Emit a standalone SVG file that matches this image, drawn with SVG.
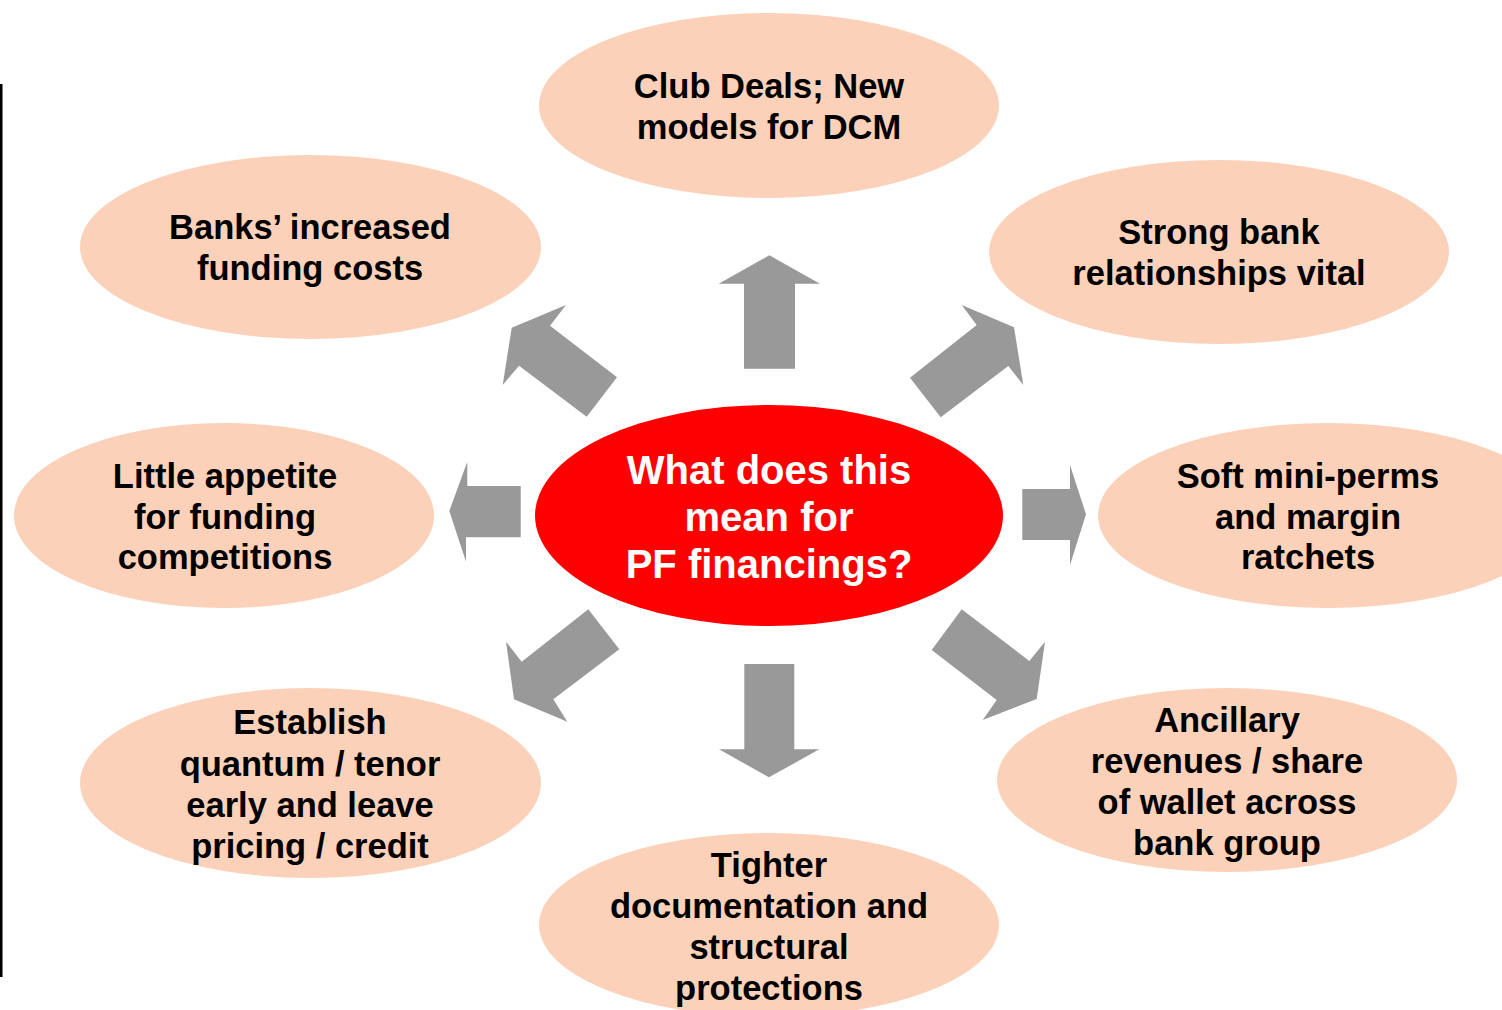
<svg xmlns="http://www.w3.org/2000/svg" width="1502" height="1010" viewBox="0 0 1502 1010">
<style>
.n{fill:#FBD1B9}
.t{font-family:"Liberation Sans",Arial,sans-serif;font-weight:bold;font-size:34.5px;fill:#000;text-anchor:middle}
.c{font-family:"Liberation Sans",Arial,sans-serif;font-weight:bold;font-size:40px;fill:#fff;text-anchor:middle}
.a{fill:#999999}
</style>
<rect x="0" y="84" width="2.5" height="893" fill="#000"/>
<g id="connectors">
<polygon class="a" points="769.3,255.3 820,283.7 795,283.7 795,368.7 744,368.7 744,283.7 718.7,283.7"/>
<polygon class="a" points="566,305 550,325.7 617,377.3 586.7,416.7 519,365.7 502.7,385 511.7,327.7"/>
<polygon class="a" points="961.7,305 1014,327.3 1023.3,385 1008.3,366 940.7,417.3 910,377.7 976.7,325"/>
<polygon class="a" points="449.3,511 467.3,461.7 467.3,486 520.7,486 520.7,537.3 466,537.3 466,561.7"/>
<polygon class="a" points="1086,514.3 1070,465 1070,489 1022.3,489 1022.3,540 1070,540 1070,565"/>
<polygon class="a" points="588.3,609.3 619.3,649.3 553.3,699.3 567.3,721.7 514,699.3 506,641.7 521.7,661.7"/>
<polygon class="a" points="769,777.3 819.3,749.3 794.3,749.3 794.3,664 744.3,664 744.3,749.3 719,749.3"/>
<polygon class="a" points="961.7,609.3 1029.3,661 1045,641.7 1036.7,699 982.7,720 996.7,700 931.7,650"/>
</g>
<g id="club">
<ellipse class="n" cx="769" cy="105.5" rx="230" ry="92.5"/>
<text class="t" x="769" y="98">Club Deals; New</text>
<text class="t" x="769" y="139">models for DCM</text>
</g>
<g id="banks">
<ellipse class="n" cx="310.5" cy="247" rx="230.5" ry="92"/>
<text class="t" x="310" y="239">Banks’ increased</text>
<text class="t" x="310" y="280">funding costs</text>
</g>
<g id="strong">
<ellipse class="n" cx="1219" cy="252" rx="230" ry="92"/>
<text class="t" x="1219" y="244">Strong bank</text>
<text class="t" x="1219" y="285">relationships vital</text>
</g>
<g id="little">
<ellipse class="n" cx="224" cy="515.5" rx="210" ry="92.5"/>
<text class="t" x="225" y="488">Little appetite</text>
<text class="t" x="225" y="529">for funding</text>
<text class="t" x="225" y="569">competitions</text>
</g>
<g id="center">
<ellipse cx="769" cy="515.5" rx="234" ry="110.5" fill="#FF0000"/>
<text class="c" x="769" y="484">What does this</text>
<text class="c" x="769" y="531">mean for</text>
<text class="c" x="769" y="578">PF financings?</text>
</g>
<g id="soft">
<ellipse class="n" cx="1328" cy="515.5" rx="230" ry="92.5"/>
<text class="t" x="1308" y="488">Soft mini-perms</text>
<text class="t" x="1308" y="529">and margin</text>
<text class="t" x="1308" y="569">ratchets</text>
</g>
<g id="establish">
<ellipse class="n" cx="310.5" cy="783" rx="230.5" ry="95"/>
<text class="t" x="310" y="734">Establish</text>
<text class="t" x="310" y="776">quantum / tenor</text>
<text class="t" x="310" y="817">early and leave</text>
<text class="t" x="310" y="858">pricing / credit</text>
</g>
<g id="ancillary">
<ellipse class="n" cx="1227" cy="780" rx="230" ry="92"/>
<text class="t" x="1227" y="732">Ancillary</text>
<text class="t" x="1227" y="773">revenues / share</text>
<text class="t" x="1227" y="814">of wallet across</text>
<text class="t" x="1227" y="855">bank group</text>
</g>
<g id="tighter">
<ellipse class="n" cx="769" cy="925" rx="230" ry="92"/>
<text class="t" x="769" y="877">Tighter</text>
<text class="t" x="769" y="918">documentation and</text>
<text class="t" x="769" y="959">structural</text>
<text class="t" x="769" y="1000">protections</text>
</g>
</svg>
